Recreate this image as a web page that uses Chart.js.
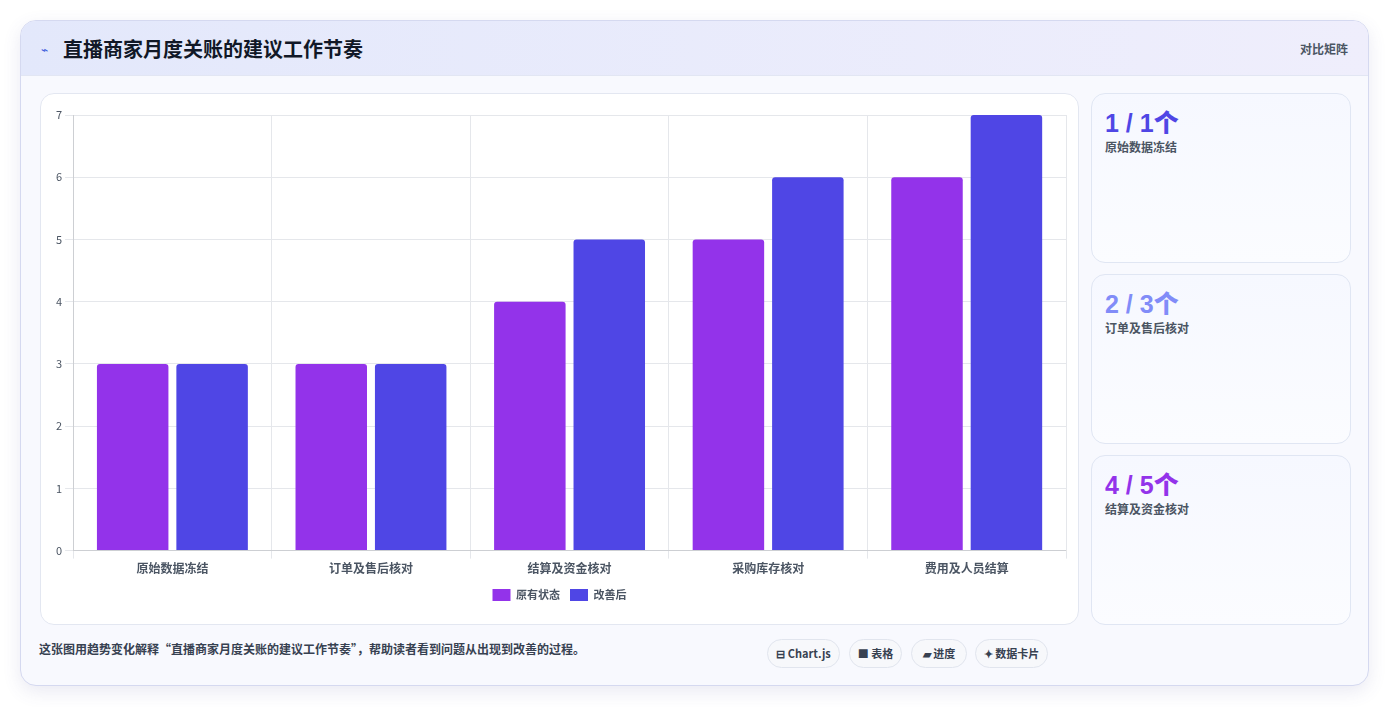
<!DOCTYPE html>
<html><head><meta charset="utf-8">
<script src="https://cdn.jsdelivr.net/npm/chart.js@4"></script>
<style>
*{box-sizing:border-box;margin:0;padding:0}
body{width:1390px;height:707px;background:#fff;font-family:"Noto Sans CJK SC","Noto Sans",sans-serif;position:relative;overflow:hidden}
.outer{position:absolute;left:20px;top:20px;width:1349px;height:666px;border:1px solid #d5d9f0;border-radius:16px;background:#f8f9fe;box-shadow:0 6px 18px rgba(80,80,160,0.12);overflow:hidden}
.head{position:absolute;left:0;top:0;width:100%;height:55px;background:linear-gradient(90deg,#e3e8fb,#efeefc);border-bottom:1px solid #e2e6f3}
.head .t{position:absolute;left:42px;top:13px;font-size:20px;font-weight:700;color:#111827}
.head .ic{position:absolute;left:20px;top:19px;font-size:12px;color:#3b5bdb}
.head .r{position:absolute;right:20px;top:19px;font-size:12px;color:#4b5563;font-weight:600}
.panel{position:absolute;left:19px;top:72px;width:1039px;height:532px;background:#fff;border:1px solid #e3e7f1;border-radius:14px}
.card{position:absolute;left:1070px;width:260px;height:170px;background:linear-gradient(180deg,#f6f8ff,#fbfcff);border:1px solid #e0e6f3;border-radius:14px}
.card .v{position:absolute;left:13px;top:9px;font-size:25px;font-weight:800;font-family:"Liberation Sans","Noto Sans CJK SC",sans-serif}
.card .l{position:absolute;left:13px;top:44px;font-size:12px;color:#4b5563;font-weight:600}
.foot{position:absolute;left:18px;top:619px;font-size:12px;color:#374151;font-weight:600}
.badge{position:absolute;top:618px;height:29px;border:1px solid #e1e5ee;border-radius:15px;background:#f7f8fb;font-size:11px;font-weight:700;color:#374151;line-height:27px;text-align:center}
</style></head><body>
<div class="outer">
 <div class="head"><span class="ic">⌁</span><span class="t">直播商家月度关账的建议工作节奏</span><span class="r">对比矩阵</span></div>
 <div class="panel"><canvas id="c" width="1037" height="530" style="width:1037px;height:530px"></canvas></div>
 <div class="card" style="top:72px"><div class="v" style="color:#4f46e5">1 / 1个</div><div class="l">原始数据冻结</div></div>
 <div class="card" style="top:253px"><div class="v" style="color:#818cf8">2 / 3个</div><div class="l">订单及售后核对</div></div>
 <div class="card" style="top:434px"><div class="v" style="color:#9333ea">4 / 5个</div><div class="l">结算及资金核对</div></div>
 <div class="foot">这张图用趋势变化解释“直播商家月度关账的建议工作节奏”，帮助读者看到问题从出现到改善的过程。</div>
 <div class="badge" style="left:746px;width:73px">⊟ Chart.js</div>
 <div class="badge" style="left:828px;width:53px">■ 表格</div>
 <div class="badge" style="left:890px;width:56px">▰ 进度</div>
 <div class="badge" style="left:954px;width:73px">✦ 数据卡片</div>
</div>
<script>
const categories=["原始数据冻结","订单及售后核对","结算及资金核对","采购库存核对","费用及人员结算"];
const before=[3,3,4,5,6];
const after=[3,3,5,6,7];
const seriesNames=["原有状态","改善后"];
Chart.defaults.font.family='"Noto Sans CJK SC","Noto Sans",sans-serif';
new Chart(document.getElementById('c'),{type:'bar',
data:{labels:categories,datasets:[
{label:seriesNames[0],data:before,backgroundColor:'#9333ea',borderRadius:3,categoryPercentage:0.8,barPercentage:0.9},
{label:seriesNames[1],data:after,backgroundColor:'#4f46e5',borderRadius:3,categoryPercentage:0.8,barPercentage:0.9}]},
options:{responsive:false,animation:false,layout:{padding:{left:12,right:12,top:21,bottom:13}},
plugins:{legend:{position:'bottom',labels:{boxWidth:18,boxHeight:12,color:'#4b5563',font:{size:11,weight:'600'}}},tooltip:{enabled:false}},
scales:{x:{grid:{color:'#e5e7eb'},ticks:{color:'#4b5563',font:{size:12,weight:'600'}}},
y:{min:0,max:7,ticks:{stepSize:1,color:'#4b5563',font:{size:11}},grid:{color:'#e5e7eb'}}}}});
</script>
</body></html>
